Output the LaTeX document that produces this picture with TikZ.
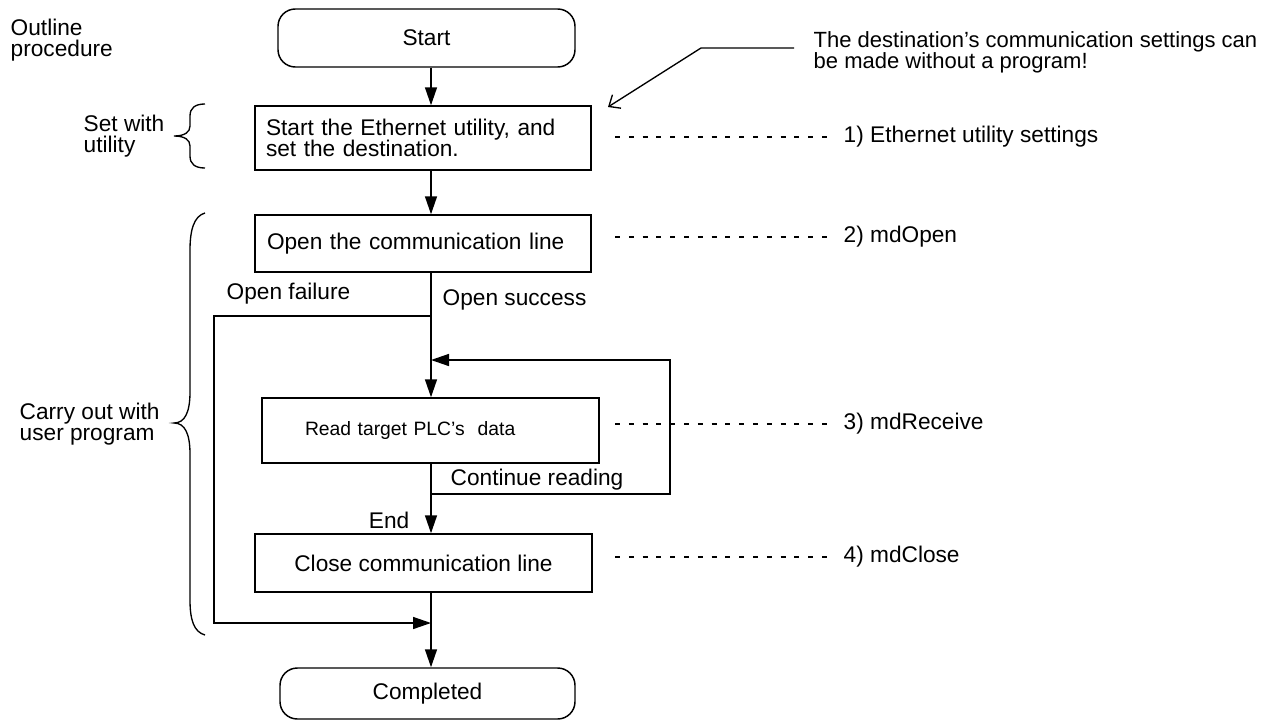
\documentclass[tikz,border=0pt]{standalone}
\usepackage{fontspec}
\setmainfont{Liberation Sans}
\usetikzlibrary{arrows.meta}
\begin{document}
\begin{tikzpicture}[x=0.75pt,y=-0.75pt,
  line width=1.1pt,
  every node/.style={font=\fontsize{17}{16}\selectfont},
  box/.style={draw, rectangle, inner ysep=0pt},
  term/.style={draw, rectangle, rounded corners=13pt, inner sep=0pt},
  lbl/.style={inner sep=0pt},
  side/.style={inner ysep=0pt, inner xsep=6pt, anchor=west},
  arr/.style={-{Triangle[length=13.5pt,width=9pt]}},
  notearr/.style={-{Straight Barb[length=7pt,width=12pt]}, line width=1pt},
  dotline/.style={line width=1pt, dash pattern=on 3.75pt off 6.6pt}
]
\useasboundingbox (0,0) rectangle (1270,721);

% texts on the left
\node[lbl, anchor=west, align=left] (outline) at (10,40) {Outline\\procedure};
\node[lbl, anchor=west, align=left] (setw) at (83,136) {Set with\\utility};
\node[lbl, anchor=west, align=left] (carry) at (19,424) {Carry out with\\user program};

% boxes
\node[term, minimum width=222.75pt, minimum height=43.5pt] (start) at (426.5,38) {Start};
\node[box, minimum height=48pt, text width=235.5pt, inner xsep=8.25pt, align=left] (b1) at (423,138)
  {Start the Ethernet utility, and\\set the destination.};
\node[box, minimum height=42.75pt, text width=234pt, inner xsep=9pt, align=left] (b2) at (423,243.5)
  {Open the communication line};
\node[box, minimum height=48.75pt, text width=188.25pt, inner xsep=32.25pt, align=left,
  font=\fontsize{14.5}{15}\selectfont] (b3) at (430.5,430.5)
  {Read target PLC's~ data};
\node[box, minimum height=43.5pt, minimum width=252.75pt] (b4) at (423.5,563) {Close communication line};
\node[term, minimum width=221.25pt, minimum height=38.25pt] (done) at (427.5,693.5) {Completed};

% coordinates of the flow
\coordinate (spine) at (431,0);
\coordinate (j1) at (431,316);
\coordinate (jl) at (431,360);
\coordinate (j2) at (431,494);
\coordinate (j3) at (431,623);
\coordinate (f1) at (214,316);
\coordinate (f2) at (214,623);
\coordinate (r1) at (670,494);
\coordinate (r2) at (670,360);

% connectors
\draw[arr] (start.south -| spine) -- (b1.north -| spine);
\draw[arr] (b1.south -| spine) -- (b2.north -| spine);
\draw[arr] (b2.south -| spine) -- (b3.north -| spine);
\draw[arr] (j1) -- (f1) -- (f2) -- (j3);
\draw[arr] (b3.south -| spine) -- (b4.north -| spine);
\draw[arr] (j2) -- (r1) -- (r2) -- (jl);
\draw[arr] (b4.south -| spine) -- (done.north -| spine);

% flow labels
\node[lbl, anchor=west] (ofail) at (226,294) {Open failure};
\node[lbl, anchor=west] (osucc) at (442,300) {Open success};
\node[lbl, anchor=west] (cont) at (450,480) {Continue reading};
\node[lbl, anchor=east] (endl) at (410,520) {End};

% braces
\draw[line width=1pt] (205,104) .. controls (195,104) and (190,108) .. (190,116) -- (190,126)
  .. controls (190,132) and (185,136) .. (174,136)
  .. controls (185,136) and (190,140) .. (190,146) -- (190,156)
  .. controls (190,164) and (195,168) .. (205,168);
\draw[line width=1pt] (205,213) .. controls (194,216) and (190,230) .. (190,250) -- (190,392)
  .. controls (190,412) and (185,423) .. (174,423)
  .. controls (185,423) and (190,434) .. (190,454) -- (190,600)
  .. controls (190,620) and (194,632) .. (205,635);

% side labels with dotted leaders
\node[side] (s1) at (835,137) {1) Ethernet utility settings};
\node[side] (s2) at (835,237) {2) mdOpen};
\node[side] (s3) at (835,424) {3) mdReceive};
\node[side] (s4) at (835,557) {4) mdClose};
\coordinate (d1) at (615,137);
\coordinate (d2) at (615,237);
\coordinate (d3) at (615,424);
\coordinate (d4) at (615,557);
\draw[dotline] (d1) -- (s1.west);
\draw[dotline] (d2) -- (s2.west);
\draw[dotline] (d3) -- (s3.west);
\draw[dotline] (d4) -- (s4.west);

% note
\node[lbl, anchor=west, align=left, font=\fontsize{16.5}{16}\selectfont] (note) at (813,52)
  {The destination's communication settings can\\be made without a program!};
\coordinate (n1) at (794,48);
\coordinate (n2) at (701,48);
\coordinate (ntip) at (608,107);
\draw[notearr] (n1) -- (n2) -- (ntip);
\end{tikzpicture}
\end{document}
